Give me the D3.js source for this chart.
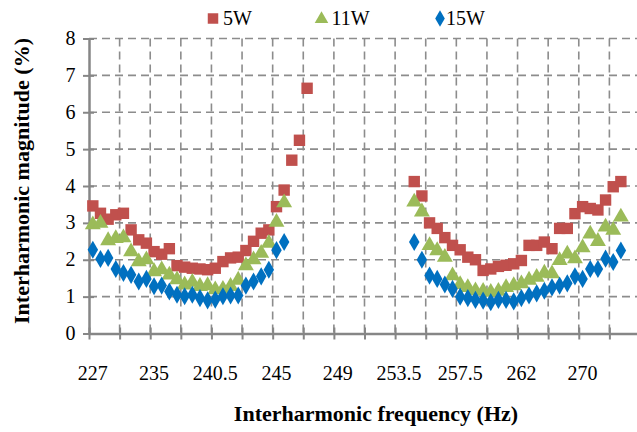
<!DOCTYPE html>
<html>
<head>
<meta charset="utf-8">
<script src="https://cdn.jsdelivr.net/npm/d3@7"></script>
<style>
  html, body { margin: 0; padding: 0; background: #fff; }
  svg { display: block; }
</style>
</head>
<body>
<svg id="chart" width="637" height="432" font-family="'Liberation Serif', 'Times New Roman', serif"></svg>
<script>
// ---------------- data ----------------
const nCategories = 72;                 // category slots on the x axis
const tickLabels = ["227", "235", "240.5", "245", "249", "253.5", "257.5", "262", "270"];
const seriesNames = ["5W", "11W", "15W"];
const _ = null;
// values per category index 0..69 (null = no measurement)
const w5 = [3.46, 3.26, 3.10, 3.22, 3.26, 2.81, 2.54, 2.45, 2.22, 2.15, 2.30, 1.84, 1.80, 1.77, 1.75, 1.73, 1.77, 1.95, 2.05, 2.07, 2.25, 2.50, 2.72, 2.81, 3.44, 3.89, 4.70, 5.24, 6.65,
  _, _, _, _, _, _, _, _, _, _, _, _, _,
  4.12, 3.73, 3.00, 2.85, 2.60, 2.39, 2.27, 2.07, 2.00, 1.71, 1.75, 1.82, 1.85, 1.89, 1.98, 2.39, 2.39, 2.48, 2.30, 2.85, 2.85, 3.25, 3.44, 3.39, 3.35, 3.62, 3.98, 4.12];
const w11 = [2.95, 2.99, 2.52, 2.58, 2.60, 2.22, 1.95, 2.00, 1.68, 1.73, 1.59, 1.46, 1.32, 1.39, 1.28, 1.30, 1.19, 1.20, 1.28, 1.45, 1.84, 2.00, 2.18, 2.45, 3.02, 3.55,
  _, _, _, _, _, _, _, _, _, _, _, _, _, _, _, _,
  3.57, 3.30, 2.39, 2.25, 2.07, 1.57, 1.33, 1.25, 1.16, 1.15, 1.12, 1.15, 1.25, 1.30, 1.35, 1.45, 1.53, 1.64, 1.62, 1.98, 2.16, 2.03, 2.33, 2.70, 2.50, 2.89, 2.80, 3.16];
const w15 = [2.27, 2.02, 2.05, 1.75, 1.64, 1.59, 1.41, 1.48, 1.28, 1.30, 1.14, 1.05, 1.01, 1.05, 0.96, 0.90, 0.92, 1.01, 1.03, 1.03, 1.30, 1.41, 1.55, 1.73, 2.26, 2.48,
  _, _, _, _, _, _, _, _, _, _, _, _, _, _, _, _,
  2.48, 2.00, 1.57, 1.48, 1.33, 1.21, 1.00, 0.96, 0.91, 0.89, 0.85, 0.91, 0.91, 0.87, 0.96, 1.03, 1.09, 1.16, 1.25, 1.30, 1.36, 1.55, 1.48, 1.75, 1.75, 2.03, 1.94, 2.25];
const yTicks = [0, 1, 2, 3, 4, 5, 6, 7, 8];

// ---------------- layout ----------------
const pLeft = 89, pRight = 640, pTop = 38.5, pBottom = 333.5;
const tickEvery = 4;          // categories per x tick interval
const labelEvery = 8;         // categories per x label
const colors = ["#C0504D", "#9BBB59", "#0070C0"];
const gridColor = "#8c8c8c", axisColor = "#868686";

const svg = d3.select("#chart");
const x = d3.scaleLinear().domain([0, nCategories]).range([pLeft, pRight]);
const y = d3.scaleLinear().domain([0, 8]).range([pBottom, pTop]);
const cx = i => x(i + 0.5);

// gridlines
const g = svg.append("g");
g.selectAll("line.hg").data(yTicks.filter(v => v > 0)).join("line")
  .attr("x1", pLeft).attr("x2", pRight).attr("y1", d => y(d)).attr("y2", d => y(d))
  .attr("stroke", gridColor).attr("stroke-width", 1.6).attr("stroke-dasharray", "8,5");
const vt = d3.range(tickEvery, nCategories + 1, tickEvery);
g.selectAll("line.vg").data(vt).join("line")
  .attr("x1", d => x(d)).attr("x2", d => x(d)).attr("y1", pTop).attr("y2", pBottom)
  .attr("stroke", gridColor).attr("stroke-width", 1.6).attr("stroke-dasharray", "8,5");

// axes
const xAxis = d3.axisBottom(x).tickValues(d3.range(0, nCategories + 1, tickEvery))
  .tickSize(6).tickSizeOuter(0).tickFormat("");
const xa = svg.append("g").attr("transform", `translate(0,${pBottom})`).call(xAxis);
xa.selectAll(".tick line").clone().attr("y2", -6);
const yAxis = d3.axisLeft(y).tickValues(yTicks).tickSize(6).tickSizeOuter(0).tickFormat("");
const ya = svg.append("g").attr("transform", `translate(${pLeft},0)`).call(yAxis);
ya.selectAll(".tick line").clone().attr("x2", 5);
svg.selectAll(".domain").attr("stroke", axisColor).attr("stroke-width", 2.5);
svg.selectAll(".tick line").attr("stroke", axisColor).attr("stroke-width", 2);

// tick labels
svg.append("g").selectAll("text").data(yTicks).join("text")
  .attr("x", 75.5).attr("y", d => y(d) + 6.5).attr("text-anchor", "end")
  .attr("font-size", 20).text(d => d);
svg.append("g").selectAll("text").data(tickLabels).join("text")
  .attr("x", (d, i) => cx(i * labelEvery)).attr("y", 380).attr("text-anchor", "middle")
  .attr("font-size", 20).text(d => d);

// axis titles
svg.append("text").attr("x", 376).attr("y", 421).attr("text-anchor", "middle")
  .attr("font-size", 22).attr("font-weight", "bold").text("Interharmonic frequency (Hz)");
svg.append("text").attr("transform", `translate(29,181) rotate(-90)`)
  .attr("text-anchor", "middle").attr("font-size", 22).attr("font-weight", "bold")
  .text("Interharmonic magnitude (%)");

// markers
const shapes = [d3.symbolSquare, d3.symbolTriangle, d3.symbolDiamond];
const sizes = [130, 110, 95];
[w5, w11, w15].forEach((arr, s) => {
  const pts = arr.map((v, i) => ({ i, v })).filter(d => d.v !== null);
  svg.append("g").selectAll("path").data(pts).join("path")
    .attr("d", d3.symbol(shapes[s], sizes[s]))
    .attr("transform", d => `translate(${cx(d.i)},${y(d.v)})`)
    .attr("fill", colors[s]);
});

// legend
const legX = [213, 321.5, 440];
const lg = svg.append("g");
seriesNames.forEach((name, s) => {
  lg.append("path").attr("d", d3.symbol(shapes[s], s === 0 ? 110 : 80))
    .attr("transform", `translate(${legX[s]},${s === 1 ? 19 : 18.5})`).attr("fill", colors[s]);
  lg.append("text").attr("x", legX[s] + (s === 2 ? 6 : 10)).attr("y", 25)
    .attr("font-size", 20).text(name);
});
</script>
</body>
</html>
